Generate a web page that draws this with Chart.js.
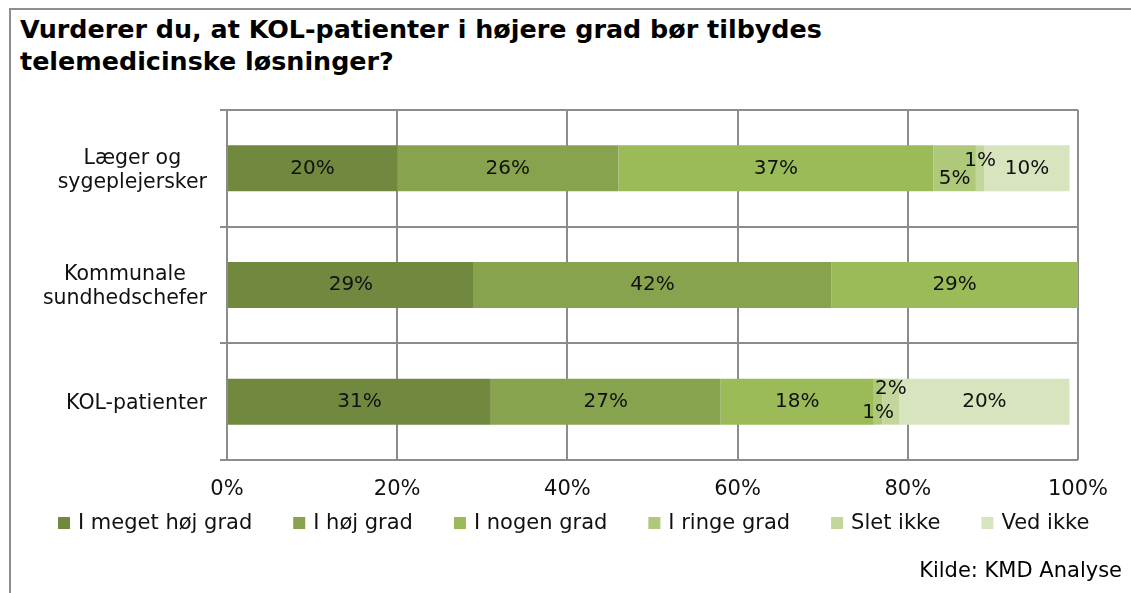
<!DOCTYPE html>
<html>
<head>
<meta charset="utf-8">
<script src="https://cdn.jsdelivr.net/npm/chart.js@4/dist/chart.umd.min.js"></script>
<style>
  html, body { margin: 0; padding: 0; background: #fff; }
  #wrap { position: relative; width: 1131px; height: 593px; overflow: hidden; }
  #frame { position: absolute; left: 9px; top: 8px; width: 1200px; height: 700px;
           border-top: 2px solid #8e8e8e; border-left: 2px solid #8e8e8e; }
  #title { position: absolute; left: 20px; top: 13px; font-family: "DejaVu Sans", sans-serif;
           font-weight: bold; font-size: 25.4px; line-height: 32px; color: #000; }
  #source { position: absolute; right: 9px; top: 558px; font-family: "DejaVu Sans", sans-serif;
            font-size: 21px; color: #000; }
  canvas { position: absolute; left: 0; top: 0; }
</style>
</head>
<body>
<div id="wrap">
  <div id="frame"></div>
  <div id="title">Vurderer du, at KOL-patienter i højere grad bør tilbydes<br>telemedicinske løsninger?</div>
  <canvas id="chart" width="1131" height="593"></canvas>
  <div id="source">Kilde: KMD Analyse</div>
</div>
<script>
// answer groups, top to bottom
const groups = [["Læger og", "sygeplejersker"], ["Kommunale", "sundhedschefer"], "KOL-patienter"];

// share of answers (%) per group
const megetHoej = [20, 29, 31];
const hoej = [26, 42, 27];
const nogen = [37, 29, 18];
const ringe = [5, 0, 1];
const sletIkke = [1, 0, 2];
const vedIkke = [10, 0, 20];

const xTicks = [0, 20, 40, 60, 80, 100];

const series = [
  { label: "I meget høj grad", data: megetHoej, color: "#71893f" },
  { label: "I høj grad", data: hoej, color: "#88a34e" },
  { label: "I nogen grad", data: nogen, color: "#9bbb59" },
  { label: "I ringe grad", data: ringe, color: "#afc97a" },
  { label: "Slet ikke", data: sletIkke, color: "#c3d69b" },
  { label: "Ved ikke", data: vedIkke, color: "#d7e4bd" }
];

// small neighbouring segments get their labels nudged up/down so they don't overlap
const labelNudge = { "3-0": 10, "4-0": -8, "3-2": 11, "4-2": -13 };

const font = "DejaVu Sans";

const barLabels = {
  id: "barLabels",
  afterDatasetsDraw(chart) {
    const ctx = chart.ctx;
    ctx.save();
    ctx.font = "20px '" + font + "'";
    ctx.fillStyle = "#111";
    ctx.textAlign = "center";
    ctx.textBaseline = "middle";
    chart.data.datasets.forEach((ds, i) => {
      chart.getDatasetMeta(i).data.forEach((bar, j) => {
        const v = ds.data[j];
        if (!v) return;
        const dy = labelNudge[i + "-" + j] || 0;
        const cx = (bar.x + bar.base) / 2;
        ctx.fillText(v + "%", cx, bar.y + dy);
      });
    });
    ctx.restore();
  }
};

// category labels: block right-aligned to the axis, wrapped lines centred within it
const groupLabels = {
  id: "groupLabels",
  afterDraw(chart) {
    const ctx = chart.ctx;
    const scale = chart.scales.y;
    const right = scale.right - 20;
    const lineH = 24;
    ctx.save();
    ctx.font = "20.5px '" + font + "'";
    ctx.fillStyle = "#111";
    ctx.textAlign = "center";
    ctx.textBaseline = "middle";
    chart.data.labels.forEach((lab, i) => {
      const lines = Array.isArray(lab) ? lab : [lab];
      const w = Math.max(...lines.map(t => ctx.measureText(t).width));
      const cx = right - w / 2;
      const cy = scale.getPixelForTick(i) + 2;
      lines.forEach((t, k) => {
        ctx.fillText(t, cx, cy + (k - (lines.length - 1) / 2) * lineH);
      });
    });
    ctx.restore();
  }
};

// one-row legend under the axis, wider item spacing than the built-in one allows
const rowLegend = {
  id: "rowLegend",
  afterDraw(chart) {
    const ctx = chart.ctx;
    const box = 12, gap = 8, spacing = 41;
    const y = 523;
    ctx.save();
    ctx.font = "21px '" + font + "'";
    ctx.textBaseline = "middle";
    let x = 58;
    chart.data.datasets.forEach(ds => {
      ctx.fillStyle = ds.backgroundColor;
      ctx.fillRect(x, y - box / 2, box, box);
      x += box + gap;
      ctx.fillStyle = "#111";
      ctx.fillText(ds.label, x, y + 1);
      x += ctx.measureText(ds.label).width + spacing;
    });
    ctx.restore();
  }
};

new Chart(document.getElementById("chart"), {
  type: "bar",
  data: {
    labels: groups,
    datasets: series.map(s => ({
      label: s.label,
      data: s.data,
      backgroundColor: s.color,
      barPercentage: 0.394,
      categoryPercentage: 1
    }))
  },
  options: {
    indexAxis: "y",
    responsive: false,
    animation: false,
    layout: { padding: { top: 110, right: 53, left: 0, bottom: 88 } },
    scales: {
      x: {
        stacked: true,
        min: 0,
        max: 100,
        afterBuildTicks(scale) { scale.ticks = xTicks.map(v => ({ value: v })); },
        afterFit(scale) { scale.height = 45; },
        grid: { color: "#8c8c8c", lineWidth: 2, drawTicks: false },
        border: { display: false },
        ticks: {
          padding: 17,
          color: "#111",
          font: { family: font, size: 21 },
          callback: v => v + "%"
        }
      },
      y: {
        stacked: true,
        afterFit(scale) { scale.width = 227; },
        grid: { color: "#8c8c8c", lineWidth: 2, offset: true, tickLength: 7 },
        border: { color: "#8c8c8c", width: 2 },
        ticks: { display: false }
      }
    },
    plugins: {
      legend: { display: false },
      tooltip: { enabled: false }
    }
  },
  plugins: [barLabels, groupLabels, rowLegend]
});
</script>
</body>
</html>
